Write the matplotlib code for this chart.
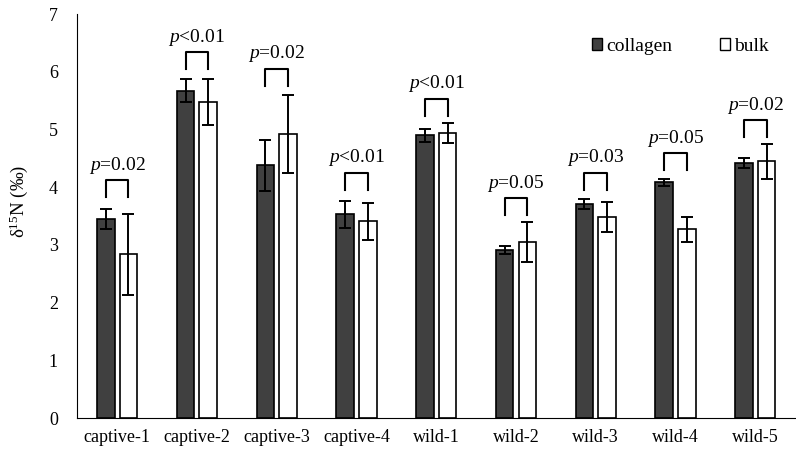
import matplotlib.pyplot as plt
from matplotlib.patches import Patch
import numpy as np

plt.rcParams['font.family'] = ['Liberation Serif', 'DejaVu Serif']
plt.rcParams['mathtext.fontset'] = 'custom'
plt.rcParams['mathtext.rm'] = 'Liberation Serif'
plt.rcParams['mathtext.it'] = 'Liberation Serif:italic'

groups = ['captive-1', 'captive-2', 'captive-3', 'captive-4',
          'wild-1', 'wild-2', 'wild-3', 'wild-4', 'wild-5']
collagen = [3.45, 5.67, 4.38, 3.53, 4.90, 2.91, 3.71, 4.09, 4.42]
collagen_err = [0.18, 0.20, 0.44, 0.24, 0.11, 0.07, 0.09, 0.06, 0.09]
bulk = [2.84, 5.48, 4.92, 3.41, 4.94, 3.05, 3.48, 3.27, 4.45]
bulk_err = [0.70, 0.40, 0.68, 0.32, 0.17, 0.35, 0.26, 0.22, 0.30]
p_labels = ['=0.02', '<0.01', '=0.02', '<0.01', '<0.01',
            '=0.05', '=0.03', '=0.05', '=0.02']
bracket_top = [4.12, 6.34, 6.05, 4.25, 5.53, 3.81, 4.25, 4.59, 5.16]

fig = plt.figure(figsize=(7.96, 4.54), dpi=100)
ax = fig.add_axes([0.097, 0.079, 0.902, 0.89])

x = np.arange(len(groups))
w = 0.22
off = 0.142
ax.bar(x - off, collagen, w, color='#404040', edgecolor='black', linewidth=1.2,
       yerr=collagen_err, capsize=4, error_kw=dict(elinewidth=1.4, capthick=1.4))
ax.bar(x + off, bulk, w, color='white', edgecolor='black', linewidth=1.2,
       yerr=bulk_err, capsize=4, error_kw=dict(elinewidth=1.4, capthick=1.4))

# significance brackets
for i in range(len(groups)):
    top = bracket_top[i]
    ax.plot([x[i] - off, x[i] - off, x[i] + off, x[i] + off],
            [top - 0.29, top, top, top - 0.29], color='black', lw=1.5)
    ax.text(x[i], top + 0.08, '$p$' + p_labels[i], ha='center', va='bottom',
            fontsize=14)

ax.set_xlim(-0.5, len(groups) - 0.5)
ax.set_ylim(0, 7)
ax.set_xticks(x)
ax.set_xticklabels(groups, fontsize=13)
ax.set_yticks(range(8))
ax.tick_params(axis='y', labelsize=13, length=0, pad=14)
ax.tick_params(axis='x', length=0, pad=8)
ax.spines['top'].set_visible(False)
ax.spines['right'].set_visible(False)
ax.set_ylabel('δ$^{15}$N (‰)', fontsize=13.5)
ax.yaxis.set_label_coords(-0.066, 0.537)

handles = [Patch(facecolor='#404040', edgecolor='black', label='collagen'),
           Patch(facecolor='white', edgecolor='black', label='bulk')]
ax.legend(handles=handles, ncol=2, frameon=False, fontsize=14,
          loc='upper right', bbox_to_anchor=(0.988, 0.985),
          handlelength=0.55, handleheight=0.55, handletextpad=0.2,
          columnspacing=2.45)

fig.savefig('out.png', dpi=100)
